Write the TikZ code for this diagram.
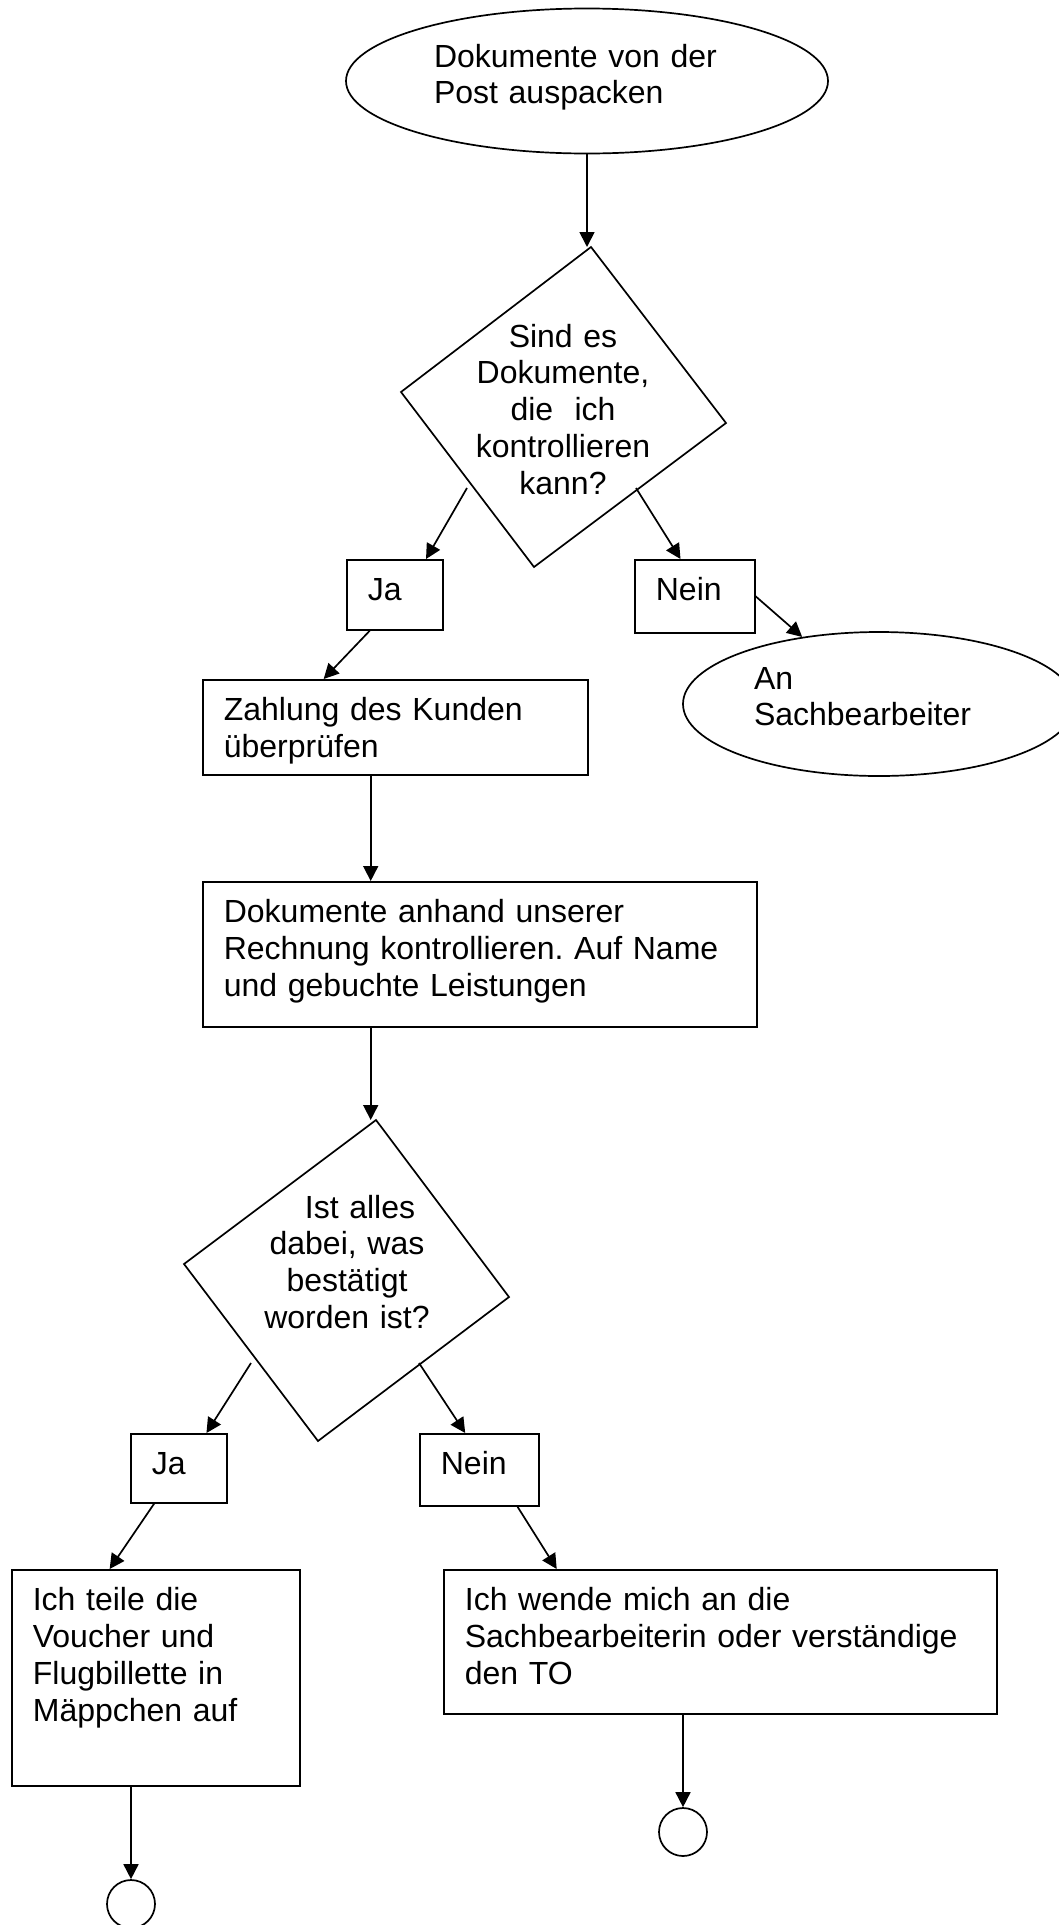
\documentclass[tikz,border=0pt]{standalone}
\usepackage{fontspec}
\setmainfont{Liberation Sans}
\usetikzlibrary{arrows.meta, shapes.geometric}
\frenchspacing

\begin{document}
\begin{tikzpicture}[x=1pt,y=-1pt,
  font=\fontsize{32}{36.8}\selectfont,
  box/.style={draw, line width=1.7pt, rectangle, anchor=north west, align=left,
    inner xsep=21pt, inner ysep=0pt, text height=41pt},
  oval/.style={draw, line width=1.7pt, ellipse, align=left, inner sep=0pt,
    text height=25pt},
  qtext/.style={anchor=base, text width=200pt, align=center, inner sep=0pt},
  endpt/.style={draw, line width=1.7pt, circle, inner sep=0pt, minimum size=48pt},
  flow/.style={line width=1.7pt, -{Triangle[length=15pt,width=15pt]}}]
  \useasboundingbox (0,0) rectangle (1059,1925);
  \clip (0,0) rectangle (1059,1925);

  % Start
  \node[oval, minimum width=482pt, minimum height=145pt, text width=306pt,
    text depth=53pt] (start) at (587,81) {Dokumente von der\\Post auspacken};

  % First question
  \coordinate (q1t) at (591,247);
  \coordinate (q1r) at (726,423);
  \coordinate (q1b) at (534,567);
  \coordinate (q1l) at (401,392);
  \draw[line width=1.7pt] (q1t) -- (q1r) -- (q1b) -- (q1l) -- cycle;
  \node[qtext] (q1text) at (563,347)
    {Sind es\\Dokumente,\\die\ \ ich\\kontrollieren\\kann?};
  \coordinate (q1yes) at (467,488);
  \coordinate (q1no) at (636,488);

  \node[box, text width=54pt, text depth=29pt] (ja1) at (346,559) {Ja};
  \node[box, text width=78pt, text depth=32pt] (nein1) at (634,559) {Nein};
  \node[oval, minimum width=392pt, minimum height=144pt, text width=250pt,
    text depth=55pt] (an) at (879,704) {An\\Sachbearbeiter};

  % Checks
  \node[box, text width=343pt, text depth=54pt] (zahlung) at (202,679)
    {Zahlung des Kunden\\überprüfen};
  \node[box, text width=512pt, text depth=104pt] (dok) at (202,881)
    {Dokumente anhand unserer\\Rechnung kontrollieren. Auf Name\\und gebuchte Leistungen};

  % Second question
  \coordinate (q2t) at (376,1120);
  \coordinate (q2r) at (509,1297);
  \coordinate (q2b) at (318,1441);
  \coordinate (q2l) at (184,1264);
  \draw[line width=1.7pt] (q2t) -- (q2r) -- (q2b) -- (q2l) -- cycle;
  \node[qtext] (q2text) at (347,1218)
    {\hspace*{26pt}Ist alles\\dabei, was\\bestätigt\\worden ist?};
  \coordinate (q2yes) at (251,1363);
  \coordinate (q2no) at (419,1363);

  \node[box, text width=54pt, text depth=28pt] (ja2) at (130,1433) {Ja};
  \node[box, text width=77pt, text depth=31pt] (nein2) at (419,1433) {Nein};

  % Outcomes
  \node[box, text width=246pt, text depth=175pt] (ichteile) at (11,1569)
    {Ich teile die\\Voucher und\\Flugbillette in\\Mäppchen auf};
  \node[box, text width=511pt, text depth=103pt] (ichwende) at (443,1569)
    {Ich wende mich an die\\Sachbearbeiterin oder verständige\\den TO};
  \node[endpt] (end1) at (131,1904) {};
  \node[endpt] (end2) at (683,1832) {};

  % Arrows
  \draw[flow] (start.south) -- (start.south |- q1t);
  \draw[flow] (q1yes) -- (ja1.49);
  \draw[flow] (q1no) -- (nein1.111);
  \draw[flow] (nein1.east) -- (an);
  \draw[flow] (ja1.-125) -- (zahlung.146);
  \draw[flow] (zahlung.-117) -- (zahlung.-117 |- dok.north);
  \draw[flow] (dok.south -| zahlung.-117) -- (zahlung.-117 |- q2t);
  \draw[flow] (q2yes) -- (ja2.52);
  \draw[flow] (q2no) -- (nein2.111);
  \draw[flow] (ja2.-125) -- (ichteile.113);
  \draw[flow] (nein2.-44) -- (ichwende.156);
  \draw[flow] (end1 |- ichteile.south) -- (end1);
  \draw[flow] (end2 |- ichwende.south) -- (end2);
\end{tikzpicture}
\end{document}
